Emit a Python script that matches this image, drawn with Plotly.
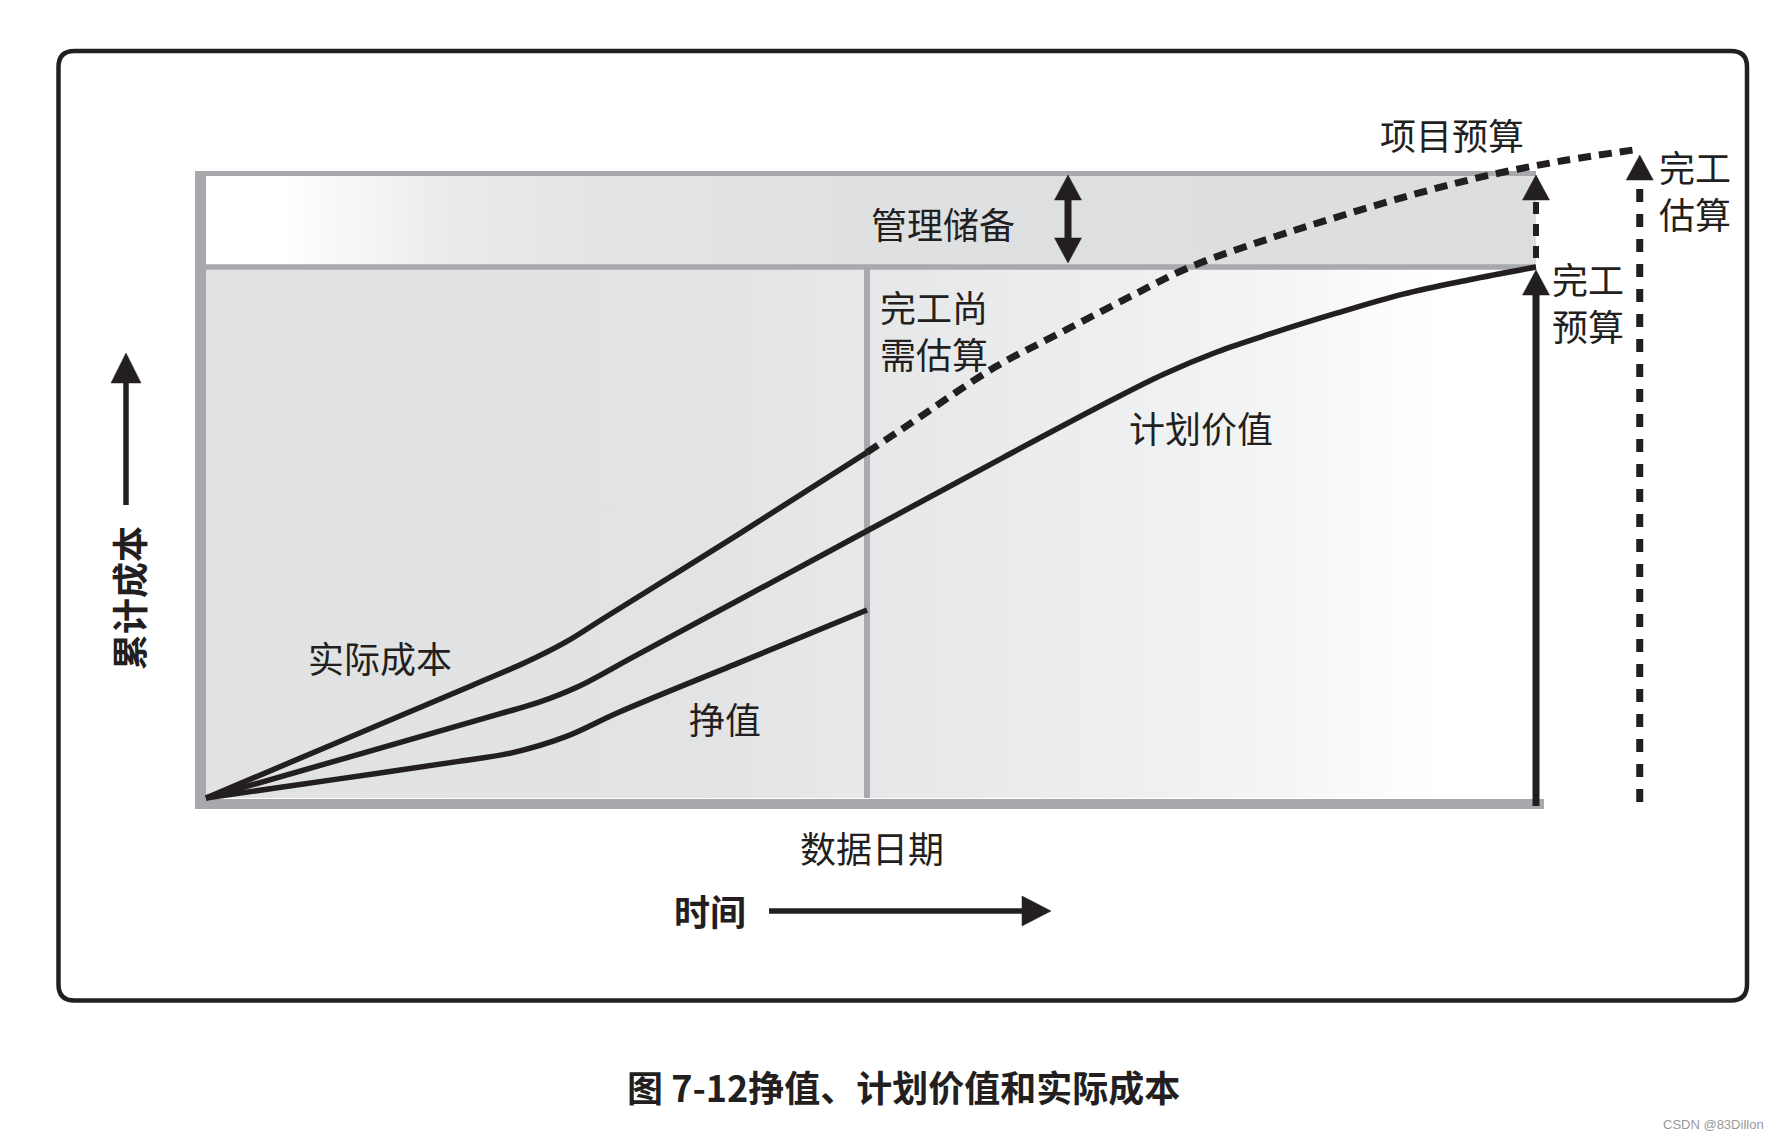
import plotly.graph_objects as go

# ---------------- data (time: 0 = start, 100 = planned finish; cost: BAC = 100) -------------
DATA_DATE = 49.7
BAC_TIME = 100
BAC = 100
PROJECT_BUDGET = 117.6
EAC_TIME = 107.8
EAC = 122.2

pv_t = [0, 12, 22, 25, 28, 32, 40, 50, 60, 68, 72, 76, 80, 85, 90, 95, 100]
pv_c = [0, 8.6, 15.8, 18.0, 21.0, 26.4, 37.2, 50.7, 64.2, 74.8, 79.8, 84.0, 87.4, 91.3, 94.9, 97.6, 100]

ev_t = [0, 10, 19, 23, 27, 31, 40, 49.7]
ev_c = [0, 3.6, 6.9, 8.5, 11.5, 16.1, 25.4, 35.4]

ac_t = [0, 10, 20, 24, 27, 30, 40, 49.7]
ac_c = [0, 10.6, 21.2, 25.5, 29.3, 34.0, 49.6, 65.1]

etc_t = [49.7, 53, 59.3, 64, 69, 74, 80, 85.3, 91, 96.5, 102, 107.8]
etc_c = [65.1, 70.6, 81.1, 87.3, 93.8, 100.0, 105.4, 109.6, 113.8, 117.3, 120.0, 122.2]

# ---------------- layout helpers (pixel -> axis units) ----------------
W, H = 1782, 1138
PX_X0, PX_X1 = 206, 1536
PX_Y0, PX_Y1 = 798, 267
KX = (PX_X1 - PX_X0) / 100.0
KY = (PX_Y0 - PX_Y1) / 100.0


def tx(px):
    return (px - PX_X0) / KX


def cy(py):
    return (PX_Y0 - py) / KY


BLACK = "#231f20"
GRAY = "#a7a9ac"
FONT = "Noto Sans CJK SC"

fig = go.Figure()


def poly(xs, ys, colorscale, start, stop):
    fig.add_trace(go.Scatter(
        x=xs, y=ys, mode="lines", fill="toself", line=dict(width=0),
        fillgradient=dict(type="horizontal", colorscale=colorscale, start=start, stop=stop),
        hoverinfo="skip", showlegend=False))


def seg(xs, ys, color, width, dash=None, shape="linear"):
    fig.add_trace(go.Scatter(
        x=xs, y=ys, mode="lines",
        line=dict(color=color, width=width, dash=dash, shape=shape, smoothing=1.0),
        hoverinfo="skip", showlegend=False))


# background regions
poly([0, BAC_TIME, BAC_TIME, 0, 0], [BAC, BAC, PROJECT_BUDGET, PROJECT_BUDGET, BAC],
     [[0, "#ffffff"], [0.06, "#ffffff"], [0.17, "#ebeced"], [0.28, "#e4e5e7"],
      [0.5, "#dfe0e2"], [1, "#dcdddf"]], 0, BAC_TIME)
poly([0, DATA_DATE, DATA_DATE, 0, 0], [0, 0, BAC, BAC, 0],
     [[0, "#e1e2e4"], [0.75, "#e2e3e5"], [1, "#e8e9ea"]], 0, DATA_DATE)
poly([DATA_DATE, BAC_TIME, BAC_TIME, DATA_DATE, DATA_DATE], [0, 0, BAC, BAC, 0],
     [[0, "#e6e7e9"], [0.4, "#eeeff0"], [0.62, "#f4f5f5"], [0.78, "#fcfcfc"],
      [0.86, "#ffffff"], [1, "#ffffff"]], DATA_DATE, BAC_TIME)

# gray frame of the chart box
seg([tx(201), BAC_TIME], [PROJECT_BUDGET, PROJECT_BUDGET], GRAY, 5)
seg([0, BAC_TIME], [BAC, BAC], GRAY, 5.5)
seg([DATA_DATE, DATA_DATE], [0, BAC], GRAY, 6)
seg([tx(200.5), tx(200.5)], [cy(809), cy(171)], GRAY, 11)
seg([tx(195), tx(1544)], [cy(804), cy(804)], GRAY, 10)

# curves
seg(pv_t, pv_c, BLACK, 5.5, shape="spline")
seg(ev_t, ev_c, BLACK, 5.5, shape="spline")
seg(ac_t, ac_c, BLACK, 5.5, shape="spline")
seg(etc_t, etc_c, BLACK, 7, dash="13px,8px", shape="spline")

# vertical arrows at BAC and EAC
seg([BAC_TIME, BAC_TIME], [cy(806), cy(290)], BLACK, 7)
seg([BAC_TIME, BAC_TIME], [cy(258), cy(200)], BLACK, 6, dash="12px,10px")
seg([EAC_TIME, EAC_TIME], [cy(802), cy(180)], BLACK, 7, dash="13px,12px")

# management reserve double arrow
RES_T = tx(1068)
seg([RES_T, RES_T], [cy(240), cy(198)], BLACK, 7)

# axis arrows
seg([tx(126), tx(126)], [cy(505), cy(380)], BLACK, 5.5)
seg([tx(769), tx(1025)], [cy(911), cy(911)], BLACK, 5.5)

shapes = []


def head(t, c, path):
    shapes.append(dict(type="path", xref="x", yref="y", xsizemode="pixel", ysizemode="pixel",
                       xanchor=t, yanchor=c, path=path, fillcolor=BLACK,
                       line=dict(color=BLACK, width=0.5), layer="above"))


UP = "M0,0 L-13.5,-25 L13.5,-25 Z"
DOWN = "M0,0 L-13.5,25 L13.5,25 Z"
head(BAC_TIME, cy(270), UP)
head(BAC_TIME, cy(175), UP)
head(EAC_TIME, cy(155), UP)
head(RES_T, cy(175), UP)
head(RES_T, cy(263), DOWN)
head(tx(126), cy(353), "M0,0 L-15,-30 L15,-30 Z")
head(tx(1051), cy(911), "M0,0 L-29,15 L-29,-15 Z")

# outer rounded frame
fx0, fx1 = tx(58.5), tx(1747)
fyt, fyb = cy(51), cy(1000.5)
rt, rc = 16 / KX, 16 / KY
frame = (f"M{fx0+rt},{fyt} L{fx1-rt},{fyt} Q{fx1},{fyt} {fx1},{fyt-rc} "
         f"L{fx1},{fyb+rc} Q{fx1},{fyb} {fx1-rt},{fyb} "
         f"L{fx0+rt},{fyb} Q{fx0},{fyb} {fx0},{fyb+rc} "
         f"L{fx0},{fyt-rc} Q{fx0},{fyt} {fx0+rt},{fyt} Z")
shapes.append(dict(type="path", xref="x", yref="y", path=frame,
                   line=dict(color=BLACK, width=4.5), layer="above"))

# ---------------- text ----------------
ann = []
DX, DY = -4, -3.5  # glyph-box correction


def label(text, px, py, size=36, bold=False, xanchor="left", angle=0, color=BLACK,
          family=FONT, shift=True):
    t = f"<b>{text}</b>" if bold else text
    if shift:
        px, py = px + DX, py + DY
    ann.append(dict(text=t, x=tx(px), y=cy(py), xref="x", yref="y", showarrow=False,
                    xanchor=xanchor, yanchor="middle", textangle=angle, align="left",
                    font=dict(family=family, size=size, color=color)))


label("项目预算", 1382, 137)
label("完工<br>估算", 1661, 193)
label("管理储备", 873, 226)
label("完工尚<br>需估算", 882, 333)
label("计划价值", 1131, 430)
label("完工<br>预算", 1554, 305)
label("实际成本", 310, 660)
label("挣值", 691, 721)
label("数据日期", 802, 850)
label("时间", 676, 913, bold=True)
label("累计成本", 128, 598, bold=True, xanchor="center", angle=-90, shift=False)
label("图 7-12挣值、计划价值和实际成本", 903.5, 1086, bold=True, xanchor="center", shift=False)
label("CSDN @83Dillon", 1766, 1124, size=13, xanchor="right", color="#9a9a9a",
      family="Liberation Sans", shift=False)

fig.update_layout(
    width=W, height=H, autosize=False,
    margin=dict(l=0, r=0, t=0, b=0),
    paper_bgcolor="white", plot_bgcolor="white",
    xaxis=dict(range=[tx(0), tx(W)], visible=False, fixedrange=True),
    yaxis=dict(range=[cy(H), cy(0)], visible=False, fixedrange=True),
    shapes=shapes, annotations=ann, showlegend=False, hovermode=False,
)

fig.write_html("out.html")
